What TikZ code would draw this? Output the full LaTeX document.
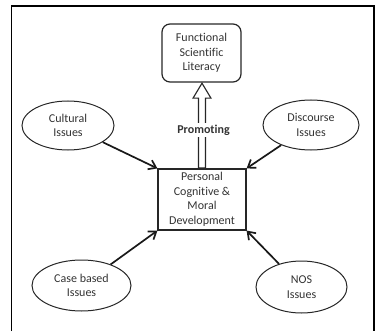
\documentclass[tikz,border=0pt]{standalone}
\usepackage{fontspec}
\setmainfont{Carlito}[Ligatures={NoCommon}]
\usetikzlibrary{shapes.geometric,arrows.meta,calc}
\begin{document}
\begin{tikzpicture}[x=1pt,y=-1pt,
  every node/.style={font=\fontsize{12}{14.5}\selectfont, text=black!80, align=center},
  issue/.style={ellipse, draw=black!85, line width=1pt, inner sep=0pt},
  arr/.style={-{Straight Barb[length=7pt,width=10pt]}, line width=1.7pt, black!90},
  frame/.style={line width=1.5pt, black}]
\useasboundingbox (0,0) rectangle (379,331);
\draw[frame] (11.7,331) -- (11.7,6) -- (374,6) -- (374,331);
\node[draw=black!85, line width=1.2pt, rounded corners=8pt, minimum width=79pt, minimum height=58pt, inner sep=0pt] (fsl) at (201.5,53) {Functional\\Scientific\\Literacy};
\node[draw=black!85, line width=1.2pt, minimum width=88pt, minimum height=61pt, inner sep=0pt] (pcm) at (202,199.5) {Personal\\Cognitive \&\\Moral\\Development};
\node[issue, minimum width=92pt, minimum height=49pt] (cult) at (68,125.5) {Cultural\\Issues};
\node[issue, minimum width=96pt, minimum height=50pt] (disc) at (311,125) {Discourse\\Issues};
\node[issue, minimum width=99pt, minimum height=51pt] (case) at (81.5,285.5) {Case based\\Issues};
\node[issue, minimum width=91pt, minimum height=52pt] (nos) at (301.5,287) {NOS\\Issues};
% hollow arrow
\coordinate (ab) at ($(pcm.north)+(0,-0.6)$);
\coordinate (at) at ($(fsl.south)+(0.5,0.6)$);
\draw[line width=1.1pt, black!85, fill=white, line join=miter]
  ($(ab)+(-3.5,0)$) -- ($(at)+(-3.5,15)$) -- ($(at)+(-9,15)$) -- (at) -- ($(at)+(9,15)$) -- ($(at)+(3.5,15)$) -- ($(ab)+(3.5,0)$) -- cycle;
\node[fill=white, inner sep=1.5pt, font=\fontsize{12}{14.5}\selectfont\bfseries] (prom) at (203.5,130) {Promoting};
\draw[arr] (cult) -- (pcm.north west);
\draw[arr] (disc) -- (pcm.north east);
\draw[arr] (case) -- (pcm.south west);
\draw[arr] (nos) -- (pcm.south east);
\end{tikzpicture}
\end{document}
